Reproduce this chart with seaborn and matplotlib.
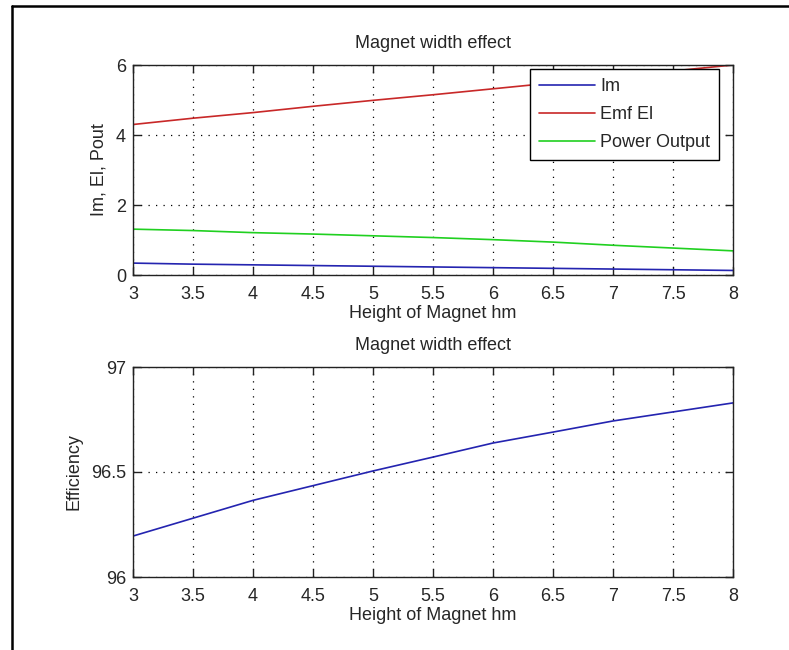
import numpy as np
import pandas as pd
import matplotlib
matplotlib.use("Agg")
import matplotlib.pyplot as plt
from matplotlib.lines import Line2D
import seaborn as sns

sns.set_style('white')
plt.rcParams['font.family'] = ['Liberation Sans', 'DejaVu Sans']

# values
hm = [3, 3.5, 4, 4.5, 5, 5.5, 6, 6.5, 7, 7.5, 8]
im = [0.34, 0.31, 0.29, 0.27, 0.25, 0.23, 0.21, 0.19, 0.17, 0.15, 0.13]
emf = [4.30, 4.48, 4.64, 4.82, 4.99, 5.15, 5.32, 5.49, 5.66, 5.83, 6.00]
pout = [1.31, 1.27, 1.21, 1.17, 1.12, 1.07, 1.01, 0.94, 0.85, 0.77, 0.69]
eff = [96.195, 96.28, 96.365, 96.435, 96.505, 96.571, 96.638, 96.69, 96.743, 96.786, 96.829]

series = ['Im', 'Emf El', 'Power Output']
colors = ['#2424b0', '#c82828', '#20d020']

xticks = [3, 3.5, 4, 4.5, 5, 5.5, 6, 6.5, 7, 7.5, 8]
xticklabels = ['3', '3.5', '4', '4.5', '5', '5.5', '6', '6.5', '7', '7.5', '8']

df_top = pd.DataFrame({
    'hm': hm * 3,
    'val': im + emf + pout,
    'Series': [series[0]] * len(hm) + [series[1]] * len(hm) + [series[2]] * len(hm),
})
df_bot = pd.DataFrame({'hm': hm, 'eff': eff})

FS = 13
W, H = 789, 650
fig = plt.figure(figsize=(W / 100, H / 100), dpi=100)
ax1 = fig.add_axes([133 / W, 1 - 275 / H, 600 / W, 210 / H])
ax2 = fig.add_axes([133 / W, 1 - 577 / H, 600 / W, 210 / H])

sns.lineplot(data=df_top, x='hm', y='val', hue='Series', palette=colors,
             linewidth=1.2, ax=ax1)
sns.lineplot(data=df_bot, x='hm', y='eff', color='#2424b0', linewidth=1.2, ax=ax2)


def style_ax(ax, ylim, yticks, yticklabels, ylabel):
    ax.set_xlim(3, 8)
    ax.set_ylim(*ylim)
    ax.set_xticks(xticks)
    ax.set_xticklabels(xticklabels, fontsize=FS)
    ax.set_yticks(yticks)
    ax.set_yticklabels(yticklabels, fontsize=FS)
    ax.tick_params(direction='in', length=6, width=1, top=True, right=True,
                   bottom=True, left=True, color='#222222')
    ax.tick_params(axis='x', pad=8)
    ax.tick_params(axis='y', pad=5)
    ax.grid(True, linestyle=(0, (1, 5)), color='black', linewidth=0.9)
    for s in ax.spines.values():
        s.set_color('#222222')
        s.set_linewidth(1.0)
    ax.set_xlabel('Height of Magnet hm', fontsize=FS, labelpad=1)
    ax.set_ylabel(ylabel, fontsize=FS, labelpad=6)
    ax.set_title('Magnet width effect', fontsize=FS, pad=12)


style_ax(ax1, (0, 6), [0, 2, 4, 6], ['0', '2', '4', '6'], 'Im, El, Pout')
style_ax(ax2, (96, 97), [96, 96.5, 97], ['96', '96.5', '97'], 'Efficiency')

leg = ax1.legend(loc='upper right', bbox_to_anchor=(1 - 14 / 600, 1 - 4 / 210),
                 borderaxespad=0, fontsize=FS, handlelength=3.1,
                 handletextpad=0.3, labelspacing=0.62, borderpad=0.5,
                 fancybox=False, framealpha=1, edgecolor='black', title=None)
leg.get_frame().set_linewidth(1.0)

# outer frame (left and top edges visible)
fig.add_artist(Line2D([12 / W, 12 / W], [0, 1 - 6 / H], color='black', linewidth=1.8))
fig.add_artist(Line2D([12 / W, 1], [1 - 6 / H, 1 - 6 / H], color='black', linewidth=1.8))

fig.savefig('out.png', dpi=100)
